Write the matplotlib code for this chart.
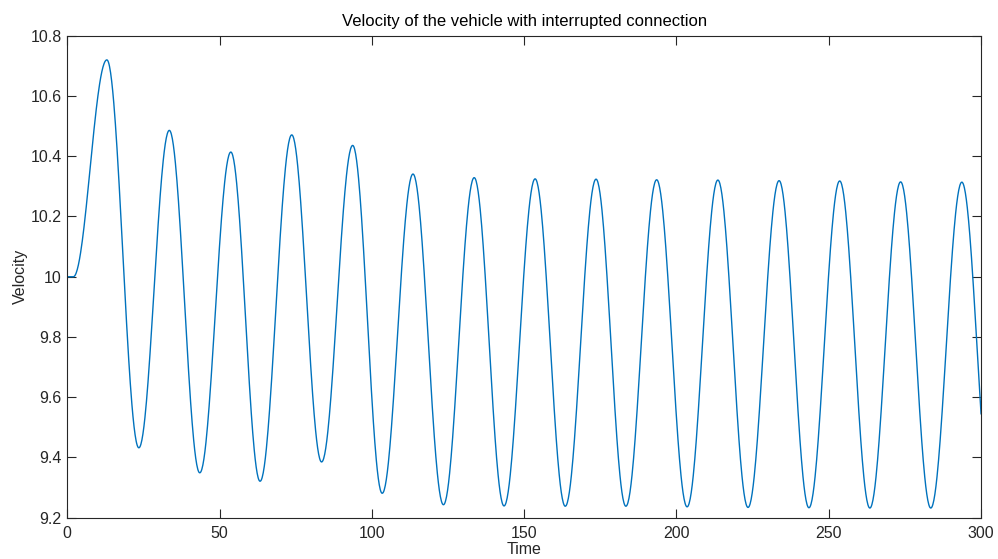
import numpy as np
import matplotlib
matplotlib.use("Agg")
import matplotlib.pyplot as plt

# Extrema of the velocity trace (time, velocity)
ext_time = [0.0, 2.0, 13.0, 23.5, 33.5, 43.5, 53.7, 63.3, 73.7, 83.5, 93.7, 103.4,
            113.5, 123.5, 133.6, 143.4, 153.6, 163.5, 173.6, 183.4, 193.5, 203.5,
            213.6, 223.5, 233.7, 243.5, 253.6, 263.5, 273.6, 283.5, 293.7, 300.0]
ext_velocity = [10.0, 10.0, 10.72, 9.432, 10.486, 9.349, 10.414, 9.321, 10.471, 9.385,
                10.436, 9.281, 10.341, 9.243, 10.329, 9.239, 10.325, 9.238, 10.324,
                9.238, 10.322, 9.236, 10.321, 9.234, 10.319, 9.233, 10.318, 9.232,
                10.315, 9.232, 10.314, 9.545]

xticks = [0, 50, 100, 150, 200, 250, 300]
yticks = [9.2, 9.4, 9.6, 9.8, 10.0, 10.2, 10.4, 10.6, 10.8]
ytick_labels = ["9.2", "9.4", "9.6", "9.8", "10", "10.2", "10.4", "10.6", "10.8"]

# smooth rendering between read extrema (half-cosine shape between turning points)
t_all, v_all = [], []
for i in range(len(ext_time) - 1):
    t0, t1 = ext_time[i], ext_time[i + 1]
    v0, v1 = ext_velocity[i], ext_velocity[i + 1]
    n = 60
    s = np.linspace(0, 1, n, endpoint=False)
    tt = t0 + s * (t1 - t0)
    if i == len(ext_time) - 2:
        # last piece: ends part way down the falling flank
        ph = (tt - t0) / 10.0
        full = 1 - np.cos(np.pi * ph)
        end = 1 - np.cos(np.pi * (t1 - t0) / 10.0)
        vv = v0 + (v1 - v0) * full / end
    else:
        vv = v0 + (v1 - v0) * (1 - np.cos(np.pi * s)) / 2
    t_all.extend(tt)
    v_all.extend(vv)
t_all.append(ext_time[-1])
v_all.append(ext_velocity[-1])

plt.rcParams['font.family'] = ['Liberation Sans', 'DejaVu Sans']

fig = plt.figure(figsize=(9.98, 5.59), dpi=100)
ax = fig.add_axes([0.0674, 0.0739, 0.983 - 0.0674, 0.936 - 0.0739])
ax.plot(t_all, v_all, color="#0072BD", lw=1.0)

ax.set_xlim(0, 300)
ax.set_ylim(9.2, 10.8)
ax.set_xticks(xticks)
ax.set_yticks(yticks)
ax.set_yticklabels(ytick_labels)
ax.tick_params(direction="in", length=6.5, width=0.8, colors="#262626",
               labelsize=11.5, top=True, right=True)
ax.tick_params(axis="x", pad=6)
ax.tick_params(axis="y", pad=4)
for sp in ax.spines.values():
    sp.set_color("#262626")
    sp.set_linewidth(0.8)

ax.set_xlabel("Time", fontsize=11.5, color="#262626", labelpad=1)
ax.set_ylabel("Velocity", fontsize=11.5, color="#262626", labelpad=2)
ax.set_title("Velocity of the vehicle with interrupted connection", fontsize=12,
             pad=7)

fig.savefig("out.png", dpi=100)
